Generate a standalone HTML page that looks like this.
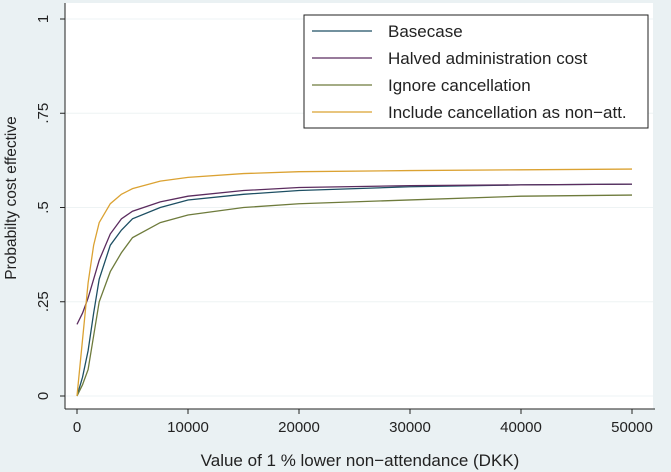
<!DOCTYPE html>
<html><head><meta charset="utf-8"><style>
html,body{margin:0;padding:0;background:#eaf1f3;}
svg{display:block;font-family:"Liberation Sans",sans-serif;}
</style></head><body>
<svg width="671" height="472" viewBox="0 0 671 472">
<rect x="0" y="0" width="671" height="472" fill="#eaf1f3"/>
<rect x="65" y="3" width="588" height="406" fill="#ffffff"/>
<g id="grid"></g>
<g id="series"></g>
<line x1="65" y1="3" x2="65" y2="409" stroke="#222" stroke-width="1"/>
<line x1="65" y1="409" x2="655" y2="409" stroke="#222" stroke-width="1"/>
<g id="yticks"></g><g id="xticks"></g>
<text x="16" y="198" transform="rotate(-90 16 198)" text-anchor="middle" font-size="15.5" fill="#222">Probabilty cost effective</text>
<text x="360" y="466" text-anchor="middle" font-size="17" fill="#222">Value of 1 % lower non−attendance (DKK)</text>
<g>
<rect x="304" y="15" width="344" height="113" fill="#fff" stroke="#222" stroke-width="1"/>
<g id="legend"></g>
</g>
</svg>
<script>
const xs=[0,500,1000,1500,2000,3000,4000,5000,7500,10000,15000,20000,30000,40000,50000];
const basecase=[0,0.05,0.12,0.22,0.31,0.40,0.44,0.47,0.50,0.52,0.535,0.545,0.555,0.56,0.562];
const halved=[0.19,0.22,0.26,0.31,0.36,0.43,0.47,0.49,0.515,0.53,0.545,0.553,0.558,0.56,0.562];
const ignoreC=[0,0.03,0.07,0.16,0.25,0.33,0.38,0.42,0.46,0.48,0.50,0.51,0.52,0.53,0.533];
const includeC=[0,0.15,0.30,0.40,0.46,0.51,0.535,0.55,0.57,0.58,0.59,0.595,0.598,0.60,0.602];
const seriesNames=["Basecase","Halved administration cost","Ignore cancellation","Include cancellation as non−att."];
const yTickVals=[0,0.25,0.5,0.75,1];
const yTickLabels=["0",".25",".5",".75","1"];
const xTickVals=[0,10000,20000,30000,40000,50000];
const NS="http://www.w3.org/2000/svg";
const sx=v=>77+v*(632-77)/50000;
const sy=v=>396-v*(396-19);
const colors=["#1d4f63","#5b2c5f","#6e7b3c","#dba232"];
const data=[basecase,halved,ignoreC,includeC];
function mk(t,a,p){const e=document.createElementNS(NS,t);for(const k in a)e.setAttribute(k,a[k]);p.appendChild(e);return e;}
const g=document.getElementById('grid'),yt=document.getElementById('yticks'),xt=document.getElementById('xticks');
yTickVals.forEach((v,i)=>{
 const gl=mk('line',{x1:66,x2:653,y1:sy(v),y2:sy(v),stroke:'#eef3f4','stroke-width':1},g);
 
 
 const t=mk('line',{x1:60,x2:65,y1:sy(v),y2:sy(v),stroke:'#222'},yt);
 
 
 const tx=mk('text',{x:-sy(v),y:48,'text-anchor':'middle','font-size':15,fill:'#222',transform:'rotate(-90)'},yt);
 tx.textContent=yTickLabels[i];
 
 
});
xTickVals.forEach(v=>{
 const t=mk('line',{x1:sx(v),x2:sx(v),y1:409,y2:414,stroke:'#222'},xt);
 
 
 const tx=mk('text',{x:sx(v),y:432,'text-anchor':'middle','font-size':15,fill:'#222'},xt);
 tx.textContent=String(v);
 
 
});
const sg=document.getElementById('series'),lg=document.getElementById('legend');
data.forEach((d,i)=>{
 const p=mk('polyline',{points:d.map((v,j)=>sx(xs[j])+','+sy(v)).join(' '),fill:'none',stroke:colors[i],'stroke-width':1.3},sg);
 
 
 const y=31+i*27;
 const l=mk('line',{x1:312,x2:372,y1:y,y2:y,stroke:colors[i],'stroke-width':1.3},lg);
 
 
 const t=mk('text',{x:388,y:y+6,'font-size':17,fill:'#222'},lg);
 t.textContent=seriesNames[i];
 
 
});
</script>
</body></html>
